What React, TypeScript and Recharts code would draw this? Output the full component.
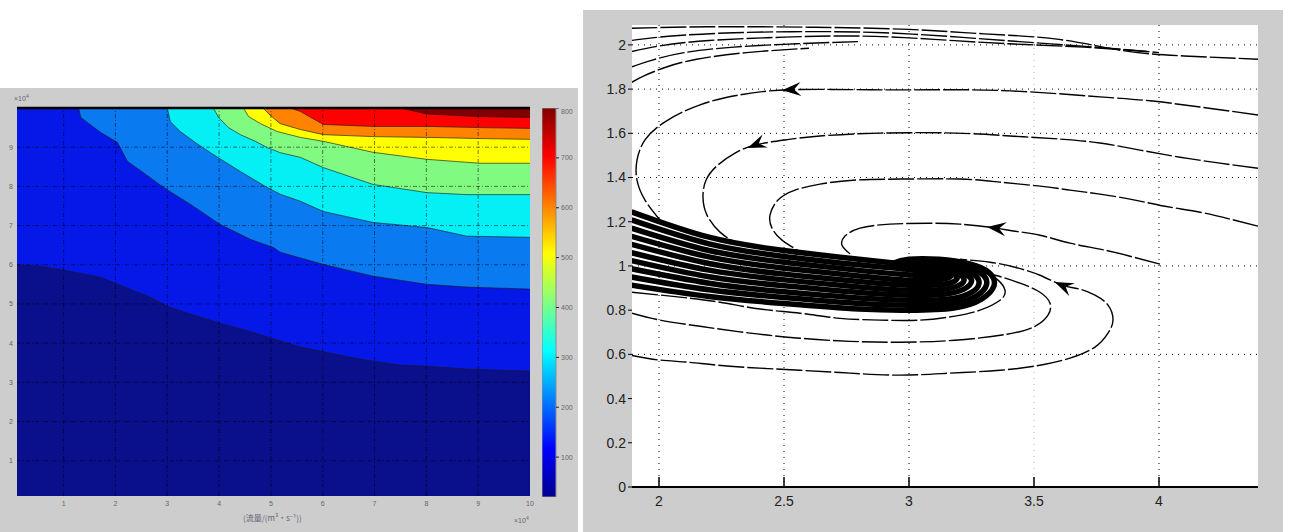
import {
  ComposedChart,
  BarChart,
  Bar,
  Area,
  Line,
  Scatter,
  XAxis,
  YAxis,
  CartesianGrid,
  ReferenceLine,
} from 'recharts'

// ---------- left panel: filled contour levels ----------
// each boundary is the lower edge of the next colour band, [x, y]
const BOUND_1 = [[0.1, 6.0], [0.56, 5.96], [1.14, 5.83], [1.71, 5.68], [2.29, 5.37], [2.68, 5.17], [3.0, 4.94], [3.45, 4.74], [3.97, 4.53], [4.51, 4.33], [5.0, 4.13], [5.57, 3.9], [5.95, 3.8], [6.53, 3.64], [6.97, 3.54], [7.49, 3.44], [8.01, 3.41], [8.78, 3.34], [9.42, 3.31], [10, 3.29]]
const BOUND_2 = [[0.1, 10], [1.29, 10], [1.33, 9.76], [1.71, 9.38], [2.04, 9.12], [2.23, 8.64], [2.58, 8.31], [2.93, 7.97], [3.45, 7.54], [4.02, 7.03], [4.6, 6.65], [5.05, 6.44], [5.18, 6.32], [6.01, 6.01], [6.97, 5.71], [8.01, 5.5], [8.78, 5.43], [10, 5.38]]
const BOUND_3 = [[0.1, 10], [3.0, 10], [3.06, 9.65], [3.25, 9.4], [3.54, 9.12], [3.89, 8.81], [4.41, 8.38], [4.93, 7.97], [5.18, 7.8], [5.57, 7.62], [6.01, 7.36], [6.97, 7.08], [8.01, 6.95], [8.78, 6.73], [10, 6.7]]
const BOUND_4 = [[0.1, 10], [3.89, 10], [3.99, 9.76], [4.18, 9.5], [4.41, 9.32], [4.7, 9.15], [4.93, 8.99], [5.18, 8.86], [5.57, 8.74], [6.01, 8.48], [6.97, 8.05], [8.01, 7.84], [8.78, 7.79], [10, 7.79]]
const BOUND_5 = [[0.1, 10], [4.47, 10], [4.57, 9.78], [4.8, 9.6], [5.12, 9.4], [5.57, 9.25], [6.01, 9.15], [6.97, 8.87], [8.01, 8.69], [9.03, 8.59], [10, 8.59]]
const BOUND_6 = [[0.1, 10], [4.85, 10], [4.99, 9.81], [5.18, 9.6], [5.57, 9.45], [6.01, 9.32], [6.97, 9.27], [8.01, 9.25], [9.03, 9.22], [10, 9.2]]
const BOUND_7 = [[0.1, 10], [5.38, 10], [5.57, 9.91], [6.01, 9.58], [6.97, 9.53], [8.01, 9.53], [9.03, 9.5], [10, 9.48]]
const BOUND_8 = [[0.1, 10], [7.5, 10], [8.0, 9.85], [9.0, 9.78], [10, 9.76]]

const BOUNDS = [BOUND_1, BOUND_2, BOUND_3, BOUND_4, BOUND_5, BOUND_6, BOUND_7, BOUND_8]
const BASE_COLOR = '#0a0f8c'
const LEVEL_COLORS = ['#0518e8', '#0a7af0', '#05f0f5', '#80fa80', '#ffff00', '#ff8200', '#ff0000', '#820000']

const LEFT_X_TICKS = [1, 2, 3, 4, 5, 6, 7, 8, 9, 10]
const LEFT_Y_TICKS = [1, 2, 3, 4, 5, 6, 7, 8, 9]
const LEFT_GRID_X = [1, 2, 3, 4, 5, 6, 7, 8, 9]
const COLORBAR_TICKS = [100, 200, 300, 400, 500, 600, 700, 800]
const COLORBAR_RANGE = [20, 800]

// ---------- right panel: phase portrait ----------
const TOP_1 = [[1.89, 2.075], [2.2, 2.082], [2.6, 2.08], [3.0, 2.07], [3.3, 2.05], [3.6, 2.025], [3.85, 1.975], [4.1, 1.95], [4.4, 1.935]]
const TOP_2 = [[1.89, 2.02], [2.05, 2.04], [2.3, 2.055], [2.6, 2.06], [2.9, 2.055], [3.2, 2.035], [3.5, 2.01], [3.8, 1.985], [4.0, 1.965]]
const TOP_3 = [[1.89, 1.97], [2.0, 1.995], [2.2, 2.02], [2.5, 2.035], [2.8, 2.04], [3.1, 2.025], [3.4, 2.005], [3.7, 1.99], [3.95, 1.97]]
const TOP_4 = [[1.89, 1.9], [1.97, 1.93], [2.1, 1.965], [2.3, 1.99], [2.55, 2.005], [2.8, 2.015]]
const TOP_5 = [[1.89, 1.83], [1.94, 1.86], [2.03, 1.9], [2.15, 1.935], [2.35, 1.965], [2.6, 1.985]]

const CURVE_A = [[4.396, 1.683], [4.164, 1.719], [3.964, 1.747], [3.764, 1.765], [3.404, 1.792], [3.084, 1.797], [2.844, 1.797], [2.524, 1.797], [2.324, 1.774], [2.164, 1.729], [2.024, 1.652], [1.944, 1.57], [1.912, 1.479], [1.912, 1.388], [1.944, 1.298], [2.004, 1.208]]
const CURVE_B = [[4.396, 1.442], [4.244, 1.465], [4.084, 1.492], [3.924, 1.524], [3.764, 1.556], [3.604, 1.574], [3.404, 1.588], [3.184, 1.601], [2.884, 1.601], [2.644, 1.588], [2.504, 1.57], [2.384, 1.547], [2.304, 1.51], [2.236, 1.457], [2.188, 1.388], [2.176, 1.307], [2.192, 1.23], [2.244, 1.153], [2.32, 1.095]]
const CURVE_C = [[4.396, 1.18], [4.284, 1.212], [4.164, 1.243], [4.024, 1.27], [3.904, 1.298], [3.764, 1.325], [3.644, 1.343], [3.524, 1.361], [3.364, 1.379], [3.204, 1.393], [2.964, 1.393], [2.776, 1.388], [2.644, 1.37], [2.544, 1.343], [2.476, 1.298], [2.444, 1.23], [2.452, 1.171], [2.492, 1.117], [2.564, 1.065]]
const CURVE_D = [[4.004, 1.008], [3.884, 1.044], [3.764, 1.076], [3.644, 1.103], [3.524, 1.139], [3.424, 1.157], [3.344, 1.172], [3.204, 1.189], [3.084, 1.193], [2.924, 1.189], [2.804, 1.171], [2.744, 1.135], [2.732, 1.094], [2.764, 1.055]]
const CURVE_E = [[1.892, 0.595], [2.004, 0.574], [2.124, 0.564], [2.284, 0.546], [2.564, 0.528], [2.764, 0.515], [2.964, 0.506], [3.164, 0.515], [3.364, 0.528], [3.524, 0.551], [3.644, 0.583], [3.744, 0.633], [3.796, 0.696], [3.816, 0.755], [3.796, 0.823], [3.744, 0.868], [3.684, 0.895], [3.612, 0.913], [3.524, 0.958], [3.424, 0.994], [3.324, 1.017], [3.204, 1.03]]
const CURVE_F = [[1.892, 0.881], [2.084, 0.859], [2.244, 0.836], [2.404, 0.805], [2.564, 0.786], [2.724, 0.763], [2.884, 0.755], [3.044, 0.755], [3.184, 0.773], [3.284, 0.8], [3.364, 0.845], [3.384, 0.89], [3.356, 0.936], [3.304, 0.967], [3.224, 0.99]]
const CURVE_G = [[1.892, 0.786], [2.004, 0.755], [2.164, 0.727], [2.364, 0.696], [2.564, 0.673], [2.764, 0.659], [2.964, 0.655], [3.184, 0.664], [3.392, 0.691], [3.504, 0.727], [3.556, 0.777], [3.564, 0.831], [3.524, 0.881], [3.444, 0.922], [3.344, 0.958], [3.244, 0.981]]

// dense bundle of trajectories winding into the focus
const BAND_0 = [[1.89, 0.913], [2.2, 0.862], [2.5, 0.83], [2.8, 0.805], [3.0, 0.8], [3.18, 0.81], [3.29, 0.85], [3.34, 0.91], [3.32, 0.97], [3.24, 1.01], [3.12, 1.03], [3.0, 1.03], [2.93, 1.01]]
const BAND_1 = [[1.89, 0.95], [2.2, 0.892], [2.5, 0.857], [2.8, 0.83], [3.0, 0.822], [3.17, 0.83], [3.27, 0.865], [3.31, 0.915], [3.29, 0.965], [3.21, 1.0], [3.1, 1.018], [3.0, 1.015], [2.95, 0.995]]
const BAND_2 = [[1.89, 0.987], [2.2, 0.922], [2.5, 0.883], [2.8, 0.855], [3.0, 0.845], [3.16, 0.85], [3.25, 0.88], [3.28, 0.92], [3.26, 0.96], [3.19, 0.99], [3.1, 1.005], [3.01, 1.0], [2.97, 0.985]]
const BAND_3 = [[1.89, 1.024], [2.2, 0.951], [2.5, 0.91], [2.8, 0.88], [3.0, 0.868], [3.14, 0.872], [3.22, 0.895], [3.25, 0.93], [3.23, 0.96], [3.17, 0.983], [3.09, 0.992], [3.02, 0.985]]
const BAND_4 = [[1.89, 1.06], [2.2, 0.981], [2.5, 0.937], [2.8, 0.905], [3.0, 0.89], [3.13, 0.893], [3.2, 0.912], [3.22, 0.94], [3.19, 0.965], [3.12, 0.978], [3.05, 0.975]]
const BAND_5 = [[1.89, 1.098], [2.2, 1.011], [2.5, 0.963], [2.8, 0.93], [3.0, 0.913], [3.12, 0.915], [3.18, 0.93], [3.19, 0.952], [3.15, 0.97], [3.08, 0.972]]
const BAND_6 = [[1.89, 1.134], [2.2, 1.041], [2.5, 0.99], [2.8, 0.955], [3.0, 0.935], [3.1, 0.935], [3.16, 0.948], [3.16, 0.965], [3.11, 0.975]]
const BAND_7 = [[1.89, 1.171], [2.2, 1.07], [2.5, 1.017], [2.8, 0.98], [2.97, 0.962], [3.08, 0.955], [3.14, 0.962], [3.13, 0.978], [3.08, 0.985]]
const BAND_8 = [[1.89, 1.208], [2.2, 1.1], [2.5, 1.043], [2.8, 1.005], [2.95, 0.99], [3.05, 0.978], [3.11, 0.98], [3.1, 0.995], [3.05, 0.998]]
const BAND_9 = [[1.89, 1.245], [2.2, 1.13], [2.5, 1.07], [2.8, 1.03], [2.95, 1.012], [3.05, 1.0], [3.1, 0.998]]

const FOCUS_LOOP_1 = [[3.05, 0.985], [3.06, 1.005], [3.085, 1.012], [3.11, 1.002], [3.115, 0.98], [3.095, 0.965], [3.065, 0.968], [3.05, 0.985]]
const FOCUS_LOOP_2 = [[3.065, 0.985], [3.07, 0.998], [3.085, 1.002], [3.1, 0.993], [3.1, 0.978], [3.085, 0.972], [3.07, 0.975], [3.065, 0.985]]

const STREAMS = [TOP_1, TOP_2, TOP_3, TOP_4, TOP_5, CURVE_A, CURVE_B, CURVE_C, CURVE_D, CURVE_E, CURVE_F, CURVE_G]
const BAND = [BAND_0, BAND_1, BAND_2, BAND_3, BAND_4, BAND_5, BAND_6, BAND_7, BAND_8, BAND_9]
const LOOPS = [FOCUS_LOOP_1, FOCUS_LOOP_2]

// arrowheads: position and heading in screen degrees (0 = right, 180 = left)
const ARROWS = [
  { x: 2.524, y: 1.797, angle: 176 },
  { x: 2.384, y: 1.547, angle: 158 },
  { x: 3.344, y: 1.172, angle: 187 },
  { x: 3.612, y: 0.913, angle: 204 },
]

const PHASE_X_TICKS = [2, 2.5, 3, 3.5, 4]
const PHASE_Y_TICKS = [0, 0.2, 0.4, 0.6, 0.8, 1, 1.2, 1.4, 1.6, 1.8, 2]
const PHASE_GRID_X = [2, 2.5, 3, 4]
const PHASE_GRID_Y = [0.6, 1, 1.4, 1.6, 1.8, 2]

const pts = (a: number[][]) => a.map(([x, y]) => ({ x, y }))

const FONT = '"Liberation Sans", Arial, sans-serif'

const Arrowhead = ({ cx, cy, payload }: any) => (
  <polygon
    points="0,0 -19,-7 -12,0 -19,7"
    transform={`translate(${cx + 8 * Math.cos((payload.angle * Math.PI) / 180)},${cy + 8 * Math.sin((payload.angle * Math.PI) / 180)}) rotate(${payload.angle})`}
    fill="#000"
  />
)

// bottom axis ticks point into the plot, labels sit below
const PhaseXTick = ({ x, y, payload }: any) => (
  <g>
    <line x1={x} x2={x} y1={y - 9} y2={y - 19} stroke="#000" strokeWidth={1.5} />
    <text x={x} y={y} dy="0.71em" textAnchor="middle" fontSize={14} fill="#222" fontFamily={FONT}>
      {payload.value}
    </text>
  </g>
)

function ContourPanel() {
  const smallTick = { fontSize: 7, fill: '#666', fontFamily: FONT }
  return (
    <div style={{ position: 'absolute', left: 0, top: 88, width: 578, height: 444, background: '#cdcdcd' }}>
      <ComposedChart width={578} height={444} margin={{ top: 20, right: 48, bottom: 0, left: 0 }}>
        <CartesianGrid fill={BASE_COLOR} fillOpacity={1} horizontal={false} vertical={false} />
        <XAxis
          type="number"
          dataKey="x"
          domain={[0.1, 10]}
          ticks={LEFT_X_TICKS}
          allowDataOverflow
          height={36}
          axisLine={false}
          tickLine={false}
          tickSize={0}
          tickMargin={5}
          tick={smallTick}
        />
        <YAxis
          type="number"
          dataKey="y"
          domain={[0.1, 10]}
          ticks={LEFT_Y_TICKS}
          allowDataOverflow
          width={17}
          axisLine={false}
          tickLine={false}
          tickSize={0}
          tickMargin={4}
          tick={smallTick}
        />
        {BOUNDS.map((b, i) => (
          <Area
            key={i}
            data={pts(b)}
            dataKey="y"
            type="linear"
            baseValue={10}
            fill={LEVEL_COLORS[i]}
            fillOpacity={1}
            stroke="#1a1a1a"
            strokeWidth={0.9}
            strokeOpacity={0.7}
            dot={false}
            activeDot={false}
            isAnimationActive={false}
          />
        ))}
        {LEFT_GRID_X.map((v) => (
          <ReferenceLine key={'gx' + v} x={v} stroke="#000" strokeOpacity={0.5} strokeDasharray="4 2 1 2" />
        ))}
        {LEFT_Y_TICKS.map((v) => (
          <ReferenceLine key={'gy' + v} y={v} stroke="#000" strokeOpacity={0.5} strokeDasharray="4 2 1 2" />
        ))}
        <ReferenceLine y={10} stroke="#000" strokeWidth={2.5} />
      </ComposedChart>

      <div style={{ position: 'absolute', left: 542, top: 20 }}>
        <BarChart width={40} height={389} data={[{ name: 'c', range: COLORBAR_RANGE }]} margin={{ top: 0, right: 0, bottom: 0, left: 0 }} barCategoryGap={0}>
          <defs>
            <linearGradient id="jet" x1="0" y1="1" x2="0" y2="0">
              <stop offset="0" stopColor="#00008f" />
              <stop offset="0.125" stopColor="#0000ff" />
              <stop offset="0.375" stopColor="#00ffff" />
              <stop offset="0.5" stopColor="#80ff80" />
              <stop offset="0.625" stopColor="#ffff00" />
              <stop offset="0.75" stopColor="#ff8000" />
              <stop offset="0.875" stopColor="#ff0000" />
              <stop offset="1" stopColor="#800000" />
            </linearGradient>
          </defs>
          <XAxis dataKey="name" hide />
          <YAxis
            orientation="right"
            domain={COLORBAR_RANGE}
            ticks={COLORBAR_TICKS}
            allowDataOverflow
            width={26}
            axisLine={false}
            tickSize={3}
            tickMargin={2}
            tickLine={{ stroke: '#222' }}
            tick={{ fontSize: 7, fill: '#666', fontFamily: FONT }}
          />
          <Bar dataKey="range" fill="url(#jet)" stroke="#8a8a8a" strokeWidth={1} isAnimationActive={false} />
        </BarChart>
      </div>

      <div style={{ position: 'absolute', left: 14, top: 5, fontSize: 7, color: '#666', fontFamily: FONT }}>
        ×10<sup style={{ fontSize: 5 }}>4</sup>
      </div>
      <div style={{ position: 'absolute', left: 514, top: 427, fontSize: 7, color: '#666', fontFamily: FONT }}>
        ×10<sup style={{ fontSize: 5 }}>4</sup>
      </div>
      <div style={{ position: 'absolute', left: 243, top: 424, fontSize: 8, color: '#667', fontFamily: '"Noto Sans CJK SC", sans-serif' }}>
        (流量/(m³·s⁻¹))
      </div>
    </div>
  )
}

function PhasePanel() {
  return (
    <div style={{ position: 'absolute', left: 583, top: 10, width: 700, height: 522, background: '#cdcdcd' }}>
      <ComposedChart width={700} height={522} margin={{ top: 15, right: 25, bottom: 0, left: 0 }}>
        <CartesianGrid
          fill="#fff"
          fillOpacity={1}
          stroke="#000"
          strokeDasharray="1 5"
          horizontalValues={PHASE_GRID_Y}
          verticalValues={PHASE_GRID_X}
        />
        <XAxis
          type="number"
          dataKey="x"
          domain={[1.892, 4.396]}
          ticks={PHASE_X_TICKS}
          allowDataOverflow
          height={45}
          axisLine={{ stroke: '#000', strokeWidth: 2 }}
          tickLine={false}
          tickSize={0}
          tickMargin={9}
          tick={<PhaseXTick />}
        />
        <YAxis
          type="number"
          dataKey="y"
          domain={[0, 2.09]}
          ticks={PHASE_Y_TICKS}
          allowDataOverflow
          width={49}
          axisLine={false}
          tickSize={4}
          tickMargin={2}
          tickLine={{ stroke: '#000' }}
          tick={{ fontSize: 14, fill: '#222', fontFamily: FONT }}
        />
        <ReferenceLine x={3.5} stroke="#000" strokeOpacity={0.25} strokeDasharray="1 5" />
        {STREAMS.map((s, i) => (
          <Line
            key={'s' + i}
            data={pts(s)}
            dataKey="y"
            type="natural"
            stroke="#000"
            strokeWidth={1.4}
            strokeDasharray="26 3"
            dot={false}
            activeDot={false}
            isAnimationActive={false}
          />
        ))}
        {BAND.map((s, i) => (
          <Line
            key={'b' + i}
            data={pts(s)}
            dataKey="y"
            type="natural"
            stroke="#000"
            strokeWidth={5.5}
            dot={false}
            activeDot={false}
            isAnimationActive={false}
          />
        ))}
        {LOOPS.map((s, i) => (
          <Line
            key={'l' + i}
            data={pts(s)}
            dataKey="y"
            type="natural"
            stroke="#000"
            strokeWidth={1.2}
            dot={false}
            activeDot={false}
            isAnimationActive={false}
          />
        ))}
        <Scatter data={ARROWS} shape={<Arrowhead />} isAnimationActive={false} />
      </ComposedChart>
    </div>
  )
}

export default function App() {
  return (
    <div style={{ position: 'relative', width: 1292, height: 532, background: '#fff', overflow: 'hidden' }}>
      <style>{'body{margin:0}'}</style>
      <ContourPanel />
      <PhasePanel />
    </div>
  )
}
